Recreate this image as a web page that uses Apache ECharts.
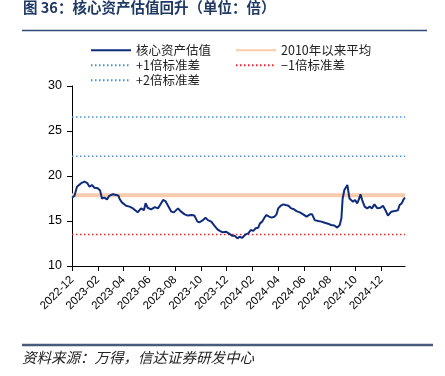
<!DOCTYPE html>
<html>
<head>
<meta charset="utf-8">
<script src="https://cdn.jsdelivr.net/npm/echarts@6/dist/echarts.min.js"></script>
<style>
html,body{margin:0;padding:0;background:#fff;}
#c{width:445px;height:376px;}
</style>
</head>
<body>
<div id="c"></div>
<script>
// ---- data ----
const tickLabels = ['2022-12','2023-02','2023-04','2023-06','2023-08','2023-10','2023-12','2024-02','2024-04','2024-06','2024-08','2024-10','2024-12'];
const dates = [
'2022-12-01','2022-12-07','2022-12-13','2022-12-23','2022-12-31','2023-01-07','2023-01-12','2023-01-18','2023-01-24','2023-02-01',
'2023-02-06','2023-02-10','2023-02-15','2023-02-21','2023-02-26','2023-03-06','2023-03-14','2023-03-20','2023-03-22','2023-03-28',
'2023-04-07','2023-04-15','2023-04-23','2023-05-04','2023-05-12','2023-05-19','2023-05-23','2023-05-28','2023-06-05','2023-06-14',
'2023-06-21','2023-06-25','2023-07-03','2023-07-09','2023-07-15','2023-07-23','2023-07-29','2023-08-08','2023-08-14','2023-08-24',
'2023-09-01','2023-09-09','2023-09-16','2023-09-23','2023-09-28','2023-10-06','2023-10-12','2023-10-18','2023-10-26','2023-11-01',
'2023-11-09','2023-11-15','2023-11-22','2023-11-30','2023-12-06','2023-12-14','2023-12-20','2023-12-27','2024-01-01','2024-01-07',
'2024-01-10','2024-01-16','2024-01-22','2024-01-28','2024-02-03','2024-02-08','2024-02-14','2024-02-18','2024-02-23','2024-02-28',
'2024-03-04','2024-03-10','2024-03-16','2024-03-23','2024-03-28','2024-04-01','2024-04-07','2024-04-13','2024-04-18','2024-04-25',
'2024-05-01','2024-05-07','2024-05-14','2024-05-22','2024-05-30','2024-06-07','2024-06-11','2024-06-15','2024-06-20','2024-06-26',
'2024-07-04','2024-07-12','2024-07-20','2024-07-28','2024-08-04','2024-08-12','2024-08-19','2024-08-25','2024-08-29','2024-09-01',
'2024-09-05','2024-09-12','2024-09-15','2024-09-17','2024-09-21','2024-09-25','2024-09-30','2024-10-05','2024-10-09','2024-10-13',
'2024-10-17','2024-10-23','2024-10-29','2024-11-04','2024-11-09','2024-11-15','2024-11-22','2024-11-29','2024-12-05','2024-12-11',
'2024-12-17','2024-12-21','2024-12-25','2025-01-02','2025-01-10','2025-01-14','2025-01-19','2025-01-24','2025-01-27'
];
const coreValuation = [
17.59,17.80,18.80,19.20,19.37,19.20,18.80,19.00,18.70,18.63,
18.40,17.50,17.60,17.40,17.80,17.97,17.90,17.80,17.50,17.07,
16.70,16.60,16.40,15.96,16.40,16.20,16.97,16.47,16.30,16.55,
16.40,16.70,17.33,17.20,16.70,16.04,15.96,16.40,16.10,15.74,
15.60,15.67,15.60,14.93,14.86,15.10,15.37,15.10,14.93,14.56,
14.10,13.90,13.74,13.80,13.63,13.37,13.37,13.07,13.26,13.12,
12.90,13.52,13.63,14.00,13.90,14.19,14.26,14.74,14.93,15.37,
15.67,15.48,15.37,15.48,15.74,16.40,16.70,16.85,16.78,16.70,
16.40,16.33,16.10,15.96,15.74,15.48,15.37,15.74,15.74,15.10,
15.00,14.93,14.80,14.70,14.56,14.50,14.26,14.56,15.30,17.50,
18.44,19.00,18.07,17.50,17.67,17.15,17.33,16.96,17.40,17.96,
17.33,16.60,16.40,16.60,16.40,16.85,16.40,16.48,16.70,16.20,
15.60,15.74,16.04,16.10,16.20,16.78,16.96,17.44,17.60
];
const bandNames = ['2010年以来平均','+1倍标准差','−1倍标准差','+2倍标准差'];
const bandValues = [17.85, 22.2, 13.5, 26.55];
const mainName = '核心资产估值';
const yTicks = [10, 15, 20, 25, 30];

// ---- build ----
function monthIndex(s){
  const p = s.split('-').map(Number);
  const y = p[0], m = p[1], d = p[2] || 1;
  const dim = new Date(y, m, 0).getDate();
  return (y-2022)*12 + (m-12) + (d-1)/dim;
}
const xs = dates.map(monthIndex);
const xMin = 0, xMax = xs[xs.length-1];
const mainData = xs.map((x,i)=>[x, coreValuation[i]]);
const tickVals = tickLabels.map(monthIndex);

const bandStyles = [
  {color:'#f8cbad', width:4, type:'solid'},
  {color:'#4a90d9', width:1.5, type:[1.5,2.5]},
  {color:'#e8262a', width:1.5, type:[1.5,2.5]},
  {color:'#4a90d9', width:1.5, type:[1.5,2.5]}
];
const series = [];
bandNames.forEach((n,i)=>{
  series.push({
    name:n, type:'line', symbol:'none', silent:true, z: i===0?2:1,
    data:[[xMin, bandValues[i]],[xMax, bandValues[i]]],
    lineStyle: bandStyles[i], itemStyle:{color:bandStyles[i].color}
  });
});
series.push({
  name: mainName, type:'line', symbol:'none', z:3,
  data: mainData,
  lineStyle:{color:'#0f2b7c', width:2}, itemStyle:{color:'#0f2b7c'}
});

const legTxt = {fontSize:12.5, color:'#222', fontFamily:'"Noto Sans CJK SC", sans-serif'};
function leg(name, left, top){
  return {data:[name], left, top, itemWidth:40, itemHeight:10, itemGap:5, textStyle:legTxt, padding:0, selectedMode:false,
          itemStyle:{opacity:0}};
}

const chart = echarts.init(document.getElementById('c'), null, {renderer:'canvas'});
chart.setOption({
  animation:false,
  backgroundColor:'#fff',
  title:{
    text:'图 36：核心资产估值回升（单位：倍）', left:23, top:0, padding:0,
    textStyle:{fontSize:14.5, lineHeight:15, fontWeight:'bold', color:'#1f3864', fontFamily:'"Noto Sans CJK SC", sans-serif'}
  },
  legend:[
    leg(mainName, 90, 44),
    leg(bandNames[0], 235, 44),
    leg(bandNames[1], 90, 59),
    leg(bandNames[2], 235, 59),
    leg(bandNames[3], 90, 74)
  ],
  grid:{left:72, right:40, top:86, bottom:110, containLabel:false},
  xAxis:{
    type:'value', min:xMin, max:xMax, interval:2,
    splitLine:{show:false},
    axisLine:{show:true, onZero:false, lineStyle:{color:'#000', width:1}},
    axisTick:{show:true, length:5, lineStyle:{color:'#000'}},
    axisLabel:{
      rotate:45, fontSize:11.5, color:'#000', margin:12, showMaxLabel:false,
      fontFamily:'"Liberation Sans", Arial, sans-serif',
      formatter:(v)=>{ const i = tickVals.findIndex(t=>Math.abs(t-v)<1e-6); return i>=0?tickLabels[i]:''; }
    }
  },
  yAxis:{
    type:'value', min:yTicks[0], max:yTicks[yTicks.length-1], interval:5,
    splitLine:{show:false},
    axisLine:{show:true, lineStyle:{color:'#000', width:1}},
    axisTick:{show:true, length:5, lineStyle:{color:'#000'}},
    axisLabel:{fontSize:12.5, color:'#000', margin:10, fontFamily:'"Liberation Sans", Arial, sans-serif'}
  },
  series,
  graphic:[
    {type:'line', shape:{x1:22, y1:30.5, x2:427, y2:30.5}, style:{stroke:'#2e4a7a', lineWidth:1.5}},
    {type:'line', shape:{x1:22, y1:345, x2:433, y2:345}, style:{stroke:'#4a5a7a', lineWidth:2.5}},
    {type:'text', left:22, top:350, style:{text:'资料来源：万得，信达证券研发中心', fill:'#222', font:'italic 14.5px "Noto Sans CJK SC", sans-serif'}}
  ]
});
</script>
</body>
</html>
